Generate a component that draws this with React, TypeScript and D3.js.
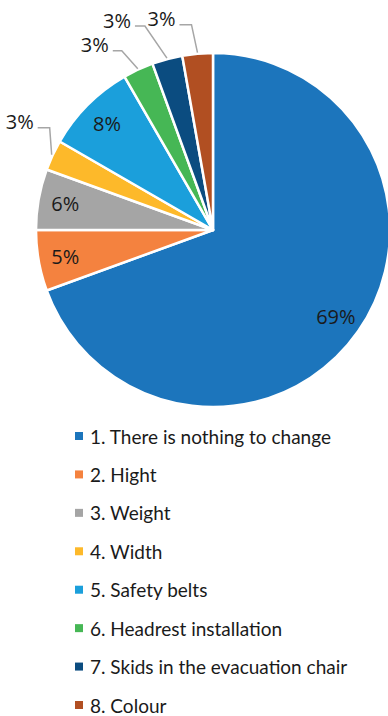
import React from "react";
import * as d3 from "d3";

const categories = [
  "1. There is nothing to change",
  "2. Hight",
  "3. Weight",
  "4. Width",
  "5. Safety belts",
  "6. Headrest installation",
  "7. Skids in the evacuation chair",
  "8. Colour",
];
const counts = [25, 2, 2, 1, 3, 1, 1, 1];
const labels = ["69%", "5%", "6%", "3%", "8%", "3%", "3%", "3%"];
const colors = ["#1C75BC", "#F4823F", "#A5A5A5", "#FDB92A", "#1B9FDB", "#46B755", "#0B4C80", "#B14F22"];

// label placement: inside (centroid) or outside with leader (elbow offset, horizontal length)
const outside = [null, null, null, { dx: -2, dy: -27, h: 12 }, null, { dx: -16, dy: -18, h: 9 }, { dx: -22, dy: -32, h: 10 }, { dx: -6, dy: -28, h: 12 }];

const W = 388;
const H = 716;
const cx = 213;
const cy = 230;
const R = 177;

export default function App() {
  const pie = d3.pie<number>().sort(null).value((d) => d);
  const arcs = pie(counts);
  const arc = d3.arc<d3.PieArcDatum<number>>().innerRadius(0).outerRadius(R);
  const labelArc = d3.arc<d3.PieArcDatum<number>>().innerRadius(150).outerRadius(150);
  const legendY = d3.scaleLinear().domain([0, categories.length - 1]).range([436, 705]);

  return (
    <svg width={W} height={H} style={{ position: "absolute", left: 0, top: 0, background: "#fff" }}>
      <g transform={`translate(${cx},${cy})`}>
        {arcs.map((a, i) => (
          <path key={i} d={arc(a) || ""} fill={colors[i]} stroke="#fff" strokeWidth={2.5} strokeLinejoin="round" />
        ))}
        {arcs.map((a, i) => {
          const o = outside[i];
          if (!o) {
            const [x, y] = labelArc.centroid(a);
            return (
              <text key={"l" + i} x={x} y={y} textAnchor="middle" dominantBaseline="central"
                fontFamily="'Open Sans', sans-serif" fontSize={20} fill="#1a1a1a">{labels[i]}</text>
            );
          }
          const mid = (a.startAngle + a.endAngle) / 2;
          const ax = Math.sin(mid) * (R + 1);
          const ay = -Math.cos(mid) * (R + 1);
          const ex = ax + o.dx;
          const ey = ay + o.dy;
          const hx = ex - o.h;
          return (
            <g key={"o" + i}>
              <polyline points={`${ax},${ay} ${ex},${ey} ${hx},${ey}`} fill="none" stroke="#A6A6A6" strokeWidth={1.5} />
              <text x={hx - 4} y={ey - 6} textAnchor="end" dominantBaseline="central"
                fontFamily="'Open Sans', sans-serif" fontSize={20} fill="#1a1a1a">{labels[i]}</text>
            </g>
          );
        })}
      </g>
      {categories.map((c, i) => (
        <g key={"lg" + i} transform={`translate(0,${legendY(i)})`}>
          <rect x={75} y={-4} width={8} height={8} fill={colors[i]} />
          <text x={90} y={0} dominantBaseline="central" fontFamily="Lato, sans-serif" fontSize={19} fill="#1a1a1a">{c}</text>
        </g>
      ))}
    </svg>
  );
}
